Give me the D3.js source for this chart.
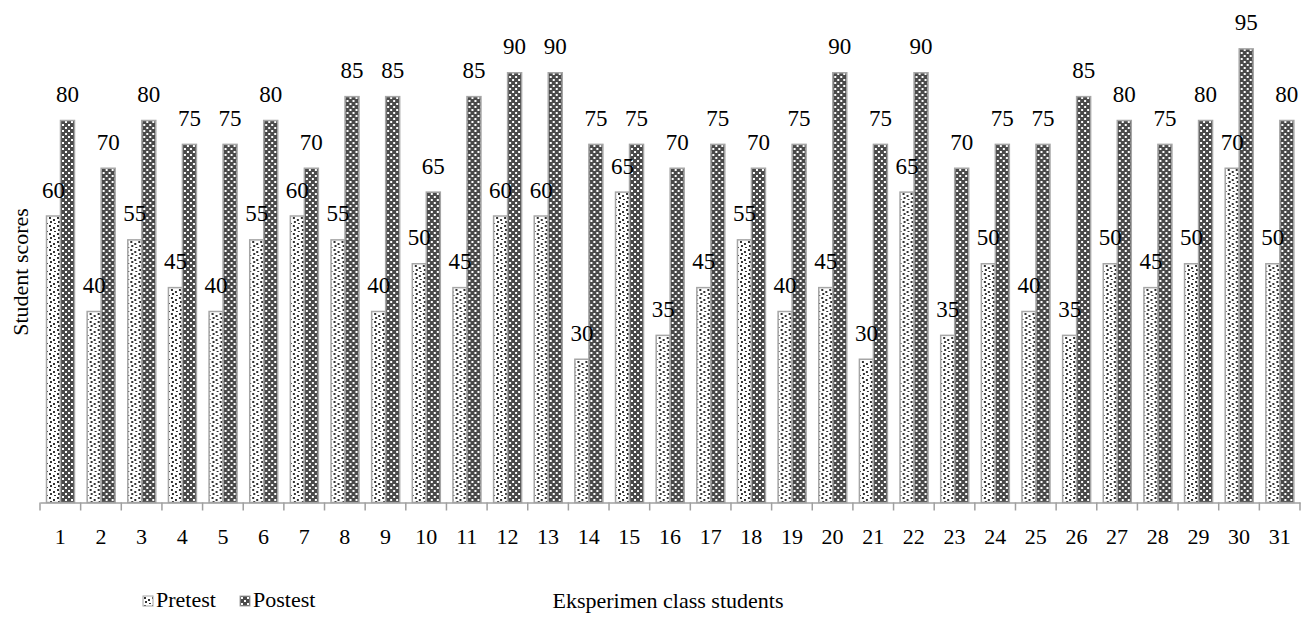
<!DOCTYPE html>
<html>
<head>
<meta charset="utf-8">
<script src="https://cdn.jsdelivr.net/npm/d3@7"></script>
<style>
  body { margin: 0; background: #fff; }
</style>
</head>
<body>
<script>
let w = 1301;
let h = 628;
let font = '"Liberation Serif"';

let students = d3.range(1, 32).map(String);
let pretest = [60, 40, 55, 45, 40, 55, 60, 55, 40, 50, 45, 60, 60, 30, 65, 35, 45, 55, 40, 45, 30, 65, 35, 50, 40, 35, 50, 45, 50, 70, 50];
let postest = [80, 70, 80, 75, 75, 80, 70, 85, 85, 65, 85, 90, 90, 75, 75, 70, 75, 70, 75, 90, 75, 90, 70, 75, 75, 85, 80, 75, 80, 95, 80];
let seriesNames = ['Pretest', 'Postest'];

let rows = students.map((s, i) => { return { student: s, values: [pretest[i], postest[i]] }; });

let xScale = d3.scaleBand()
  .domain(students)
  .range([40, 1300]);

let subScale = d3.scaleBand()
  .domain([0, 1])
  .range([6.5, 34.5]);

let yScale = d3.scaleLinear()
  .domain([0, 100])
  .range([502.5, 25]);

let svg = d3.select('body')
  .append('svg')
  .attr('width', w)
  .attr('height', h);

// fill patterns
let defs = svg.append('defs');

let dots = defs.append('pattern')
  .attr('id', 'dots')
  .attr('patternUnits', 'userSpaceOnUse')
  .attr('width', 8)
  .attr('height', 8);
dots.append('rect').attr('width', 8).attr('height', 8).attr('fill', '#fff');
[[1, 1], [5, 3], [2, 5], [6, 7]].forEach((p) => {
  dots.append('rect').attr('x', p[0]).attr('y', p[1]).attr('width', 2).attr('height', 2).attr('fill', '#333');
});

let checks = defs.append('pattern')
  .attr('id', 'checks')
  .attr('patternUnits', 'userSpaceOnUse')
  .attr('width', 6)
  .attr('height', 6);
checks.append('rect').attr('width', 6).attr('height', 6).attr('fill', '#4a4a4a');
checks.append('rect').attr('x', 1).attr('y', 1).attr('width', 2).attr('height', 2).attr('fill', '#fff');
checks.append('rect').attr('x', 4).attr('y', 4).attr('width', 2).attr('height', 2).attr('fill', '#fff');

let fills = ['url(#dots)', 'url(#checks)'];

let groups = svg.selectAll('g.student')
  .data(rows)
  .enter()
  .append('g')
  .attr('class', 'student')
  .attr('transform', (d) => { return 'translate(' + xScale(d.student) + ',0)'; });

groups.selectAll('rect')
  .data((d) => { return d.values; })
  .enter()
  .append('rect')
  .attr('x', (d, i) => { return subScale(i); })
  .attr('y', (d) => { return yScale(d); })
  .attr('width', subScale.bandwidth())
  .attr('height', (d) => { return yScale(0) - yScale(d); })
  .attr('fill', (d, i) => { return fills[i]; })
  .attr('stroke', '#a6a6a6')
  .attr('stroke-width', 1.5);

groups.selectAll('text')
  .data((d) => { return d.values; })
  .enter()
  .append('text')
  .text((d) => { return d; })
  .attr('x', (d, i) => { return subScale(i) + subScale.bandwidth() / 2; })
  .attr('y', (d) => { return yScale(d) - 18.5; })
  .attr('text-anchor', 'middle')
  .style('font-family', font)
  .style('font-size', '23px')
  .style('fill', '#000');

// x axis
let xAxis = d3.axisBottom(xScale)
  .tickSize(0)
  .tickPadding(26);

let axisG = svg.append('g')
  .attr('transform', 'translate(0,' + yScale(0) + ')')
  .attr('font-family', null)
  .call(xAxis)
  .attr('font-family', null);
axisG.select('.domain').attr('stroke', '#a0a0a0').attr('stroke-width', 1.5);
axisG.selectAll('.tick text')
  .style('font-family', font)
  .style('font-size', '22px')
  .style('fill', '#000');

axisG.selectAll('line.sep')
  .data(students.concat(['end']))
  .enter()
  .append('line')
  .attr('class', 'sep')
  .attr('x1', (d, i) => { return i < students.length ? xScale(d) : xScale.range()[1]; })
  .attr('x2', (d, i) => { return i < students.length ? xScale(d) : xScale.range()[1]; })
  .attr('y1', 0)
  .attr('y2', 8)
  .attr('stroke', '#a0a0a0')
  .attr('stroke-width', 1.5);

// axis titles
svg.append('text')
  .text('Student scores')
  .attr('transform', 'translate(28,272) rotate(-90)')
  .attr('text-anchor', 'middle')
  .style('font-family', font)
  .style('font-size', '22px');

svg.append('text')
  .text('Eksperimen class students')
  .attr('x', 668)
  .attr('y', 608)
  .attr('text-anchor', 'middle')
  .style('font-family', font)
  .style('font-size', '22px');

// legend
let legend = svg.selectAll('g.legend')
  .data(seriesNames)
  .enter()
  .append('g')
  .attr('class', 'legend')
  .attr('transform', (d, i) => { return 'translate(' + (143 + i * 97) + ',596)'; });

legend.append('rect')
  .attr('width', 10)
  .attr('height', 10)
  .attr('fill', (d, i) => { return fills[i]; })
  .attr('stroke', '#a6a6a6')
  .attr('stroke-width', 1);

legend.append('text')
  .text((d) => { return d; })
  .attr('x', 13)
  .attr('y', 11)
  .style('font-family', font)
  .style('font-size', '22px');
</script>
</body>
</html>
